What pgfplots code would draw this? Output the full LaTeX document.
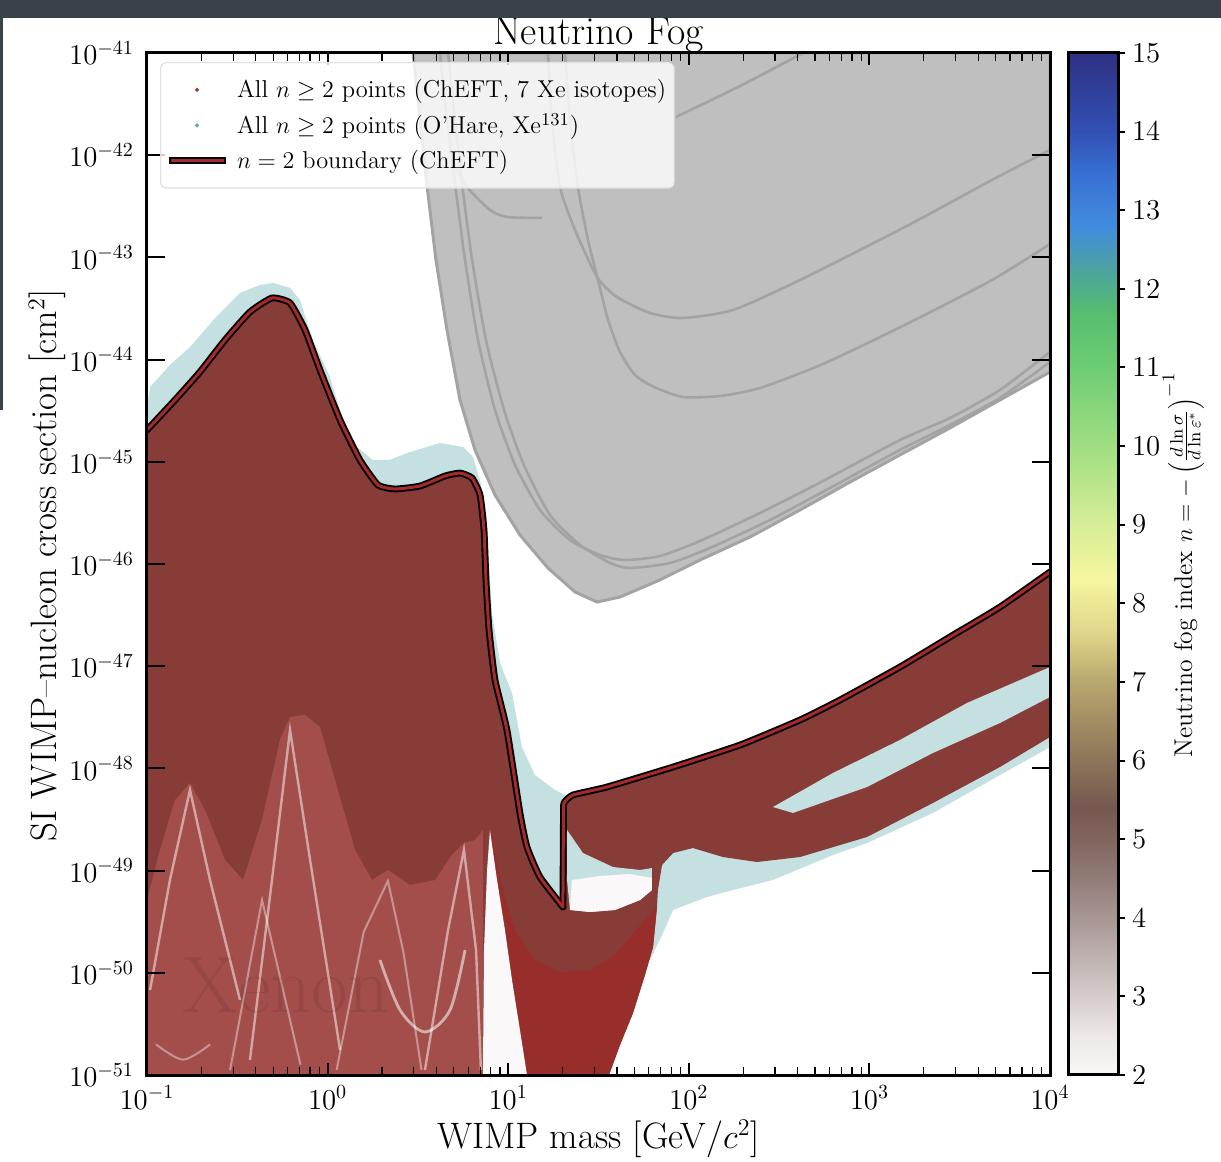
\documentclass[border=0pt]{standalone}
\usepackage{pgfplots}
\pgfplotsset{compat=1.18}
\definecolor{mixred}{RGB}{136,60,56}
\definecolor{solidred}{RGB}{152,46,44}
\definecolor{bndred}{RGB}{165,42,42}
\definecolor{teallight}{RGB}{196,224,224}
\definecolor{tealdot}{RGB}{100,170,170}
\definecolor{grayfill}{RGB}{191,191,191}
\definecolor{grayline}{RGB}{163,163,163}
\definecolor{darkband}{RGB}{57,66,70}
\definecolor{wedgewhite}{RGB}{250,248,248}
\definecolor{chaos}{RGB}{163,78,75}
\begin{document}
\begin{tikzpicture}
\fill[white] (-73.5pt,-43.5pt) rectangle (537pt,537.5pt);
\begin{axis}[
  at={(0pt,0pt)}, anchor=south west,
  scale only axis, width=451.5pt, height=511pt,
  xmin=-1, xmax=4, ymin=-51, ymax=-41,
  axis on top, no markers,
  axis line style={line width=1.5pt, black},
  xtick={-1,0,1,2,3,4},
  xticklabels={$10^{-1}$,$10^{0}$,$10^{1}$,$10^{2}$,$10^{3}$,$10^{4}$},
  ytick=\empty,
  extra y ticks={-51,-50,-49,-48,-47,-46,-45,-44,-43,-42,-41},
  extra y tick labels={$10^{-51}$,$10^{-50}$,$10^{-49}$,$10^{-48}$,$10^{-47}$,$10^{-46}$,$10^{-45}$,$10^{-44}$,$10^{-43}$,$10^{-42}$,$10^{-41}$},
  extra y tick style={major tick length=9pt, yticklabel style={xshift=-3pt}},
  minor xtick={-0.69897,-0.52288,-0.39794,-0.30103,-0.22185,-0.15490,-0.09691,-0.04576,
    0.30103,0.47712,0.60206,0.69897,0.77815,0.84510,0.90309,0.95424,
    1.30103,1.47712,1.60206,1.69897,1.77815,1.84510,1.90309,1.95424,
    2.30103,2.47712,2.60206,2.69897,2.77815,2.84510,2.90309,2.95424,
    3.30103,3.47712,3.60206,3.69897,3.77815,3.84510,3.90309,3.95424},
  tick align=inside, tick pos=both,
  major tick length=6pt, minor tick length=4pt,
  major tick style={line width=1pt, black},
  minor tick style={line width=0.6pt, black},
  ticklabel style={font=\fontsize{14.2}{16}\selectfont},
  xticklabel style={yshift=-2pt},
  colormap={fog}{rgb255(0cm)=(249,247,247); rgb255(0.5cm)=(238,232,232); rgb255(1cm)=(214,205,204);
    rgb255(1.5cm)=(190,178,176); rgb255(2cm)=(167,150,147); rgb255(2.5cm)=(146,124,120);
    rgb255(3cm)=(128,100,94); rgb255(3.4cm)=(118,88,80); rgb255(4cm)=(140,117,88);
    rgb255(5cm)=(184,167,110); rgb255(5.6cm)=(222,212,136); rgb255(6.3cm)=(246,246,160);
    rgb255(7cm)=(215,238,150); rgb255(8cm)=(160,222,130); rgb255(9cm)=(110,205,115);
    rgb255(9.7cm)=(85,190,110); rgb255(10.3cm)=(75,160,165); rgb255(10.8cm)=(65,140,222);
    rgb255(11.5cm)=(55,110,210); rgb255(12cm)=(50,80,180); rgb255(13cm)=(46,48,130)},
  point meta min=2, point meta max=15,
  colorbar,
  colorbar/width=25pt,
  colorbar shift/.style={xshift=9pt},
  colorbar style={
    at={(parent axis.north east)}, anchor=north west,
    ytick={2,3,4,5,6,7,8,9,10,11,12,13,14,15},
    ytick pos=right, xtick=\empty,
    yticklabel style={font=\fontsize{13.5}{15}\selectfont},
    tick align=outside,
    major tick length=3.5pt,
    axis line style={line width=1.5pt, black},
    major tick style={line width=1pt, black},
  },
  legend style={
    at={(0.0144,0.9912)}, anchor=north west,
    draw=black!12, line width=0.6pt,
    fill=white, fill opacity=0.8, draw opacity=1, text opacity=1,
    rounded corners=3pt,
    font=\fontsize{12.2}{14}\selectfont,
    inner xsep=2.5pt, inner ysep=6.8pt,
    row sep=3.6pt,
    nodes={inner sep=1.5pt},
  },
  legend cell align=left,
]
% experimental exclusion region
\addplot[forget plot, fill=grayfill, draw=grayline, line width=1.5pt] coordinates {
(0.473,-41.000) (0.512,-41.655) (0.550,-42.291) (0.600,-43.025) (0.661,-43.710) (0.733,-44.395)
(0.816,-44.884) (0.927,-45.325) (1.065,-45.716) (1.220,-46.039) (1.370,-46.274) (1.492,-46.372)
(1.619,-46.323) (1.840,-46.156) (2.062,-45.961) (2.339,-45.736) (2.616,-45.471) (2.893,-45.198)
(3.169,-44.933) (3.446,-44.669) (3.723,-44.395) (4.000,-44.121) (4.000,-41.000)} -- cycle;
\addplot[forget plot, grayline, line width=1.3pt, smooth, tension=0.4] coordinates {
(0.622,-41.000) (0.661,-41.655) (0.705,-42.272) (0.761,-43.025) (0.833,-43.808) (0.927,-44.493)
(1.038,-45.031) (1.176,-45.471) (1.342,-45.765) (1.508,-45.912) (1.647,-45.961) (1.840,-45.922)
(2.062,-45.775) (2.394,-45.501) (2.743,-45.188) (3.169,-44.787) (3.446,-44.571) (3.723,-44.297) (4.000,-43.925)};
\addplot[forget plot, grayline, line width=1.3pt, smooth, tension=0.4] coordinates {
(0.667,-41.000) (0.705,-41.655) (0.744,-42.272) (0.800,-43.025) (0.877,-43.808) (0.977,-44.493)
(1.087,-45.031) (1.231,-45.520) (1.398,-45.814) (1.564,-45.990) (1.674,-46.039) (1.896,-45.990)
(2.117,-45.843) (2.450,-45.569) (2.782,-45.256) (3.169,-44.884) (3.446,-44.640) (3.723,-44.375) (4.000,-44.023)};
\addplot[forget plot, grayline, line width=1.3pt, smooth, tension=0.4] coordinates {
(1.220,-41.000) (1.242,-41.655) (1.287,-42.311) (1.370,-42.732) (1.492,-43.192) (1.602,-43.387)
(1.785,-43.544) (1.968,-43.593) (2.245,-43.514) (2.616,-43.221) (3.208,-42.692) (3.679,-42.242) (4.000,-41.949)};
\addplot[forget plot, grayline, line width=1.3pt, smooth, tension=0.4] coordinates {
(1.314,-41.000) (1.342,-41.655) (1.386,-42.311) (1.442,-42.830) (1.497,-43.221) (1.553,-43.612)
(1.619,-43.925) (1.702,-44.150) (1.807,-44.268) (1.968,-44.366) (2.173,-44.356) (2.394,-44.278)
(2.743,-44.043) (3.208,-43.651) (3.679,-43.221) (4.000,-42.869)};
\addplot[forget plot, grayline, line width=1.3pt, smooth, tension=0.4] coordinates {
(0.689,-42.047) (0.772,-42.311) (0.899,-42.536) (0.993,-42.605) (1.187,-42.614)};
\addplot[forget plot, grayline, line width=1.3pt, smooth, tension=0.4] coordinates {
(1.929,-41.626) (2.284,-41.323) (2.632,-41.000)};
% O'Hare points envelope (teal)
\addplot[forget plot, fill=teallight, draw=none] coordinates {
(-1,-44.473) (-0.983,-44.268) (-0.873,-44.053) (-0.762,-43.877) (-0.623,-43.593) (-0.485,-43.348)
(-0.374,-43.270) (-0.302,-43.250) (-0.208,-43.299) (-0.153,-43.417) (-0.081,-43.808) (0.013,-44.170)
(0.085,-44.591) (0.163,-44.855) (0.251,-44.982) (0.345,-44.982) (0.440,-44.914) (0.622,-44.816)
(0.750,-44.855) (0.805,-44.953) (0.844,-45.178) (0.877,-45.501) (0.910,-46.479) (0.955,-46.969)
(1.021,-47.262) (1.076,-47.791) (1.148,-48.065) (1.259,-48.211) (1.314,-48.260) (1.547,-48.182)
(1.913,-47.986) (2.284,-47.771) (2.616,-47.526) (2.837,-47.331) (3.169,-47.008) (3.446,-46.714)
(3.723,-46.421) (4,-46.078) (4,-47.791) (3.723,-48.065) (3.352,-48.436) (2.987,-48.730)
(2.798,-48.847) (2.466,-49.092) (2.245,-49.190) (2.101,-49.258) (1.913,-49.385) (1.852,-49.630)
(1.785,-49.875) (1.508,-50.119) (1.121,-50.168) (-1,-50.266)} -- cycle;
% ChEFT points region (red with dots)
\addplot[forget plot, fill=mixred, draw=none] coordinates {
(-1,-51) (-1.000,-44.689) (-0.845,-44.395) (-0.707,-44.121) (-0.568,-43.808) (-0.430,-43.534)
(-0.308,-43.397) (-0.208,-43.446) (-0.125,-43.710) (-0.042,-44.102) (0.069,-44.591) (0.179,-44.982)
(0.279,-45.227) (0.373,-45.266) (0.512,-45.237) (0.650,-45.139) (0.733,-45.110) (0.800,-45.159)
(0.844,-45.325) (0.866,-45.667) (0.877,-46.156) (0.894,-46.646) (0.927,-47.135) (0.993,-47.624)
(1.065,-48.436) (1.104,-48.769) (1.176,-49.063) (1.303,-49.356) (1.306,-48.450) (1.309,-48.338)
(1.359,-48.260) (1.547,-48.182) (1.913,-47.986) (2.284,-47.771) (2.616,-47.526) (2.837,-47.331)
(3.169,-47.008) (3.446,-46.714) (3.723,-46.421) (4,-46.078) (4,-47.693) (3.723,-47.986)
(3.352,-48.338) (2.987,-48.671) (2.616,-48.867) (2.378,-48.916) (2.189,-48.867) (2.023,-48.779)
(1.913,-48.828) (1.852,-48.945) (1.829,-49.190) (1.824,-49.356) (1.802,-49.748) (1.757,-50.022)
(1.691,-50.393) (1.619,-50.706) (1.558,-51)} -- cycle;
% bowl below the right band
\addplot[forget plot, fill=teallight, draw=none] coordinates {
(1.326,-48.603) (1.414,-48.828) (1.580,-48.965) (1.730,-48.994) (1.796,-48.975) (1.796,-49.190)
(1.730,-49.288) (1.591,-49.385) (1.453,-49.405) (1.342,-49.385) (1.326,-49.092)} -- cycle;
\addplot[forget plot, fill=wedgewhite, draw=none] coordinates {
(1.353,-49.092) (1.508,-49.053) (1.674,-49.033) (1.796,-49.072) (1.796,-49.190) (1.730,-49.288)
(1.591,-49.385) (1.453,-49.405) (1.342,-49.385)} -- cycle;
% gap stripe in the right band
\addplot[forget plot, fill=teallight, draw=none] coordinates {
(2.466,-48.378) (2.798,-48.045) (3.169,-47.722) (3.540,-47.360) (4,-47.008) (4,-47.301)
(3.723,-47.556) (3.352,-47.849) (2.987,-48.182) (2.577,-48.436)} -- cycle;
% solid red V
\addplot[forget plot, fill=solidred, draw=none] coordinates {
(0.899,-48.603) (0.938,-49.092) (0.982,-49.581) (1.021,-50.070) (1.065,-50.560) (1.104,-51)
(1.558,-51) (1.619,-50.706) (1.691,-50.393) (1.757,-50.022) (1.802,-49.748) (1.824,-49.356)
(1.730,-49.532) (1.591,-49.826) (1.453,-49.973) (1.287,-49.992) (1.148,-49.875) (1.038,-49.581)
(0.955,-49.092) (0.910,-48.652)} -- cycle;
% white wedge
\addplot[forget plot, fill=wedgewhite, draw=none] coordinates {
(0.860,-51) (0.866,-49.777) (0.883,-48.994) (0.899,-48.603) (0.938,-49.092) (0.982,-49.581)
(1.021,-50.070) (1.065,-50.560) (1.104,-51)} -- cycle;
% speckled low-mass region
\addplot[forget plot, fill=chaos, draw=none] coordinates {
(-1,-49.288) (-0.928,-48.798) (-0.845,-48.309) (-0.762,-48.143) (-0.679,-48.407) (-0.568,-48.896)
(-0.468,-49.092) (-0.363,-48.505) (-0.264,-47.722) (-0.208,-47.497) (-0.125,-47.477) (-0.042,-47.595)
(0.041,-48.113) (0.152,-48.798) (0.246,-49.092) (0.334,-48.994) (0.456,-49.141) (0.595,-49.092)
(0.689,-48.847) (0.755,-48.730) (0.816,-48.701) (0.860,-48.603) (0.860,-51) (-1,-51)} -- cycle;
\addplot[forget plot, white, opacity=0.5, line width=1.2pt] coordinates {
(-0.983,-50.168) (-0.873,-49.092) (-0.762,-48.211) (-0.651,-49.092) (-0.485,-50.266)};
\addplot[forget plot, white, opacity=0.5, line width=1.2pt] coordinates {
(-0.430,-50.853) (-0.308,-49.092) (-0.208,-47.624) (-0.097,-48.896) (0.069,-50.755)};
\addplot[forget plot, white, opacity=0.55, line width=1.4pt, smooth] coordinates {
(0.290,-49.875) (0.401,-50.364) (0.539,-50.579) (0.678,-50.364) (0.761,-49.777)};
\addplot[forget plot, white, opacity=0.5, line width=1.2pt] coordinates {
(0.539,-50.951) (0.667,-49.581) (0.755,-48.798) (0.822,-49.777) (0.849,-50.951)};
\addplot[forget plot, white, opacity=0.4, line width=1pt] coordinates {
(-0.540,-50.951) (-0.363,-49.288) (-0.150,-50.900)};
\addplot[forget plot, white, opacity=0.4, line width=1pt] coordinates {
(0.050,-50.950) (0.200,-49.600) (0.334,-49.100) (0.420,-49.800) (0.520,-50.950)};
\addplot[forget plot, white, opacity=0.4, line width=1pt, smooth] coordinates {
(-0.950,-50.700) (-0.800,-50.850) (-0.650,-50.700)};
\node[font=\fontsize{40}{40}\selectfont, text opacity=0.08] at (axis cs:-0.23,-50.12) {Xenon};
% n = 2 boundary
\addplot[forget plot, black, line width=3.4pt, line join=round, line cap=round, smooth, tension=0.3] coordinates {
(-1.000,-44.689) (-0.845,-44.395) (-0.707,-44.121) (-0.568,-43.808) (-0.430,-43.534)
(-0.308,-43.397) (-0.208,-43.446) (-0.125,-43.710) (-0.042,-44.102) (0.069,-44.591) (0.179,-44.982)
(0.279,-45.227) (0.373,-45.266) (0.512,-45.237) (0.650,-45.139) (0.733,-45.110) (0.800,-45.159)
(0.844,-45.325) (0.866,-45.667) (0.877,-46.156) (0.894,-46.646) (0.927,-47.135) (0.993,-47.624)
(1.065,-48.436) (1.104,-48.769) (1.176,-49.063) (1.303,-49.356)};
\addplot[forget plot, black, line width=3.4pt, line join=round, line cap=round, smooth, tension=0.3] coordinates {
(1.303,-49.356) (1.306,-48.450) (1.309,-48.338) (1.359,-48.260) (1.547,-48.182) (1.913,-47.986)
(2.284,-47.771) (2.616,-47.526) (2.837,-47.331) (3.169,-47.008) (3.446,-46.714) (3.723,-46.421) (4,-46.078)};
\addplot[forget plot, bndred, line width=1.5pt, line join=round, line cap=round, smooth, tension=0.3] coordinates {
(-1.000,-44.689) (-0.845,-44.395) (-0.707,-44.121) (-0.568,-43.808) (-0.430,-43.534)
(-0.308,-43.397) (-0.208,-43.446) (-0.125,-43.710) (-0.042,-44.102) (0.069,-44.591) (0.179,-44.982)
(0.279,-45.227) (0.373,-45.266) (0.512,-45.237) (0.650,-45.139) (0.733,-45.110) (0.800,-45.159)
(0.844,-45.325) (0.866,-45.667) (0.877,-46.156) (0.894,-46.646) (0.927,-47.135) (0.993,-47.624)
(1.065,-48.436) (1.104,-48.769) (1.176,-49.063) (1.303,-49.356)};
\addplot[forget plot, bndred, line width=1.5pt, line join=round, line cap=round, smooth, tension=0.3] coordinates {
(1.303,-49.356) (1.306,-48.450) (1.309,-48.338) (1.359,-48.260) (1.547,-48.182) (1.913,-47.986)
(2.284,-47.771) (2.616,-47.526) (2.837,-47.331) (3.169,-47.008) (3.446,-46.714) (3.723,-46.421) (4,-46.078)};
% legend
\addlegendimage{legend image code/.code={\path[draw=none] (0pt,0pt) -- (32.5pt,0pt); \fill[fill opacity=1, color={rgb,255:red,170;green,60;blue,60}] (14pt,0pt) circle (0.7pt);}}
\addlegendentry{All $n \geq 2$ points (ChEFT, 7 Xe isotopes)}
\addlegendimage{legend image code/.code={\path[draw=none] (0pt,0pt) -- (32.5pt,0pt); \fill[fill opacity=1, tealdot] (14pt,0pt) circle (0.7pt);}}
\addlegendentry{All $n \geq 2$ points (O'Hare, Xe$^{131}$)}
\addlegendimage{legend image code/.code={\path[draw=none] (0pt,0pt) -- (32.5pt,0pt); \draw[draw opacity=1, black, line width=3.4pt] (0pt,0pt) -- (28.5pt,0pt); \draw[draw opacity=1, bndred, line width=1.6pt] (0.9pt,0pt) -- (27.6pt,0pt);}}
\addlegendentry{$n = 2$ boundary (ChEFT)}
\end{axis}
\node[anchor=base, font=\fontsize{19.9}{23}\selectfont] at (225.75pt,515pt) {Neutrino Fog};
\node[anchor=base, font=\fontsize{18.4}{21}\selectfont] at (225.75pt,-36.5pt) {WIMP mass [GeV/$c^2$]};
\node[rotate=90, anchor=base, font=\fontsize{18.4}{21}\selectfont] at (-45pt,255pt) {SI WIMP--nucleon cross section [cm$^2$]};
\node[rotate=90, anchor=base, font=\fontsize{12.85}{15}\selectfont] at (522.5pt,255pt) {Neutrino fog index $n = -\left(\frac{d\ln\sigma}{d\ln\varepsilon^*}\right)^{-1}$};
\fill[darkband] (-73.5pt,528.5pt) rectangle (537pt,537.5pt);
\fill[darkband] (-73.5pt,332.5pt) rectangle (-72pt,528.5pt);
\pgfresetboundingbox
\path[use as bounding box] (-73.5pt,-43.5pt) rectangle (537pt,537.5pt);
\end{tikzpicture}
\end{document}
